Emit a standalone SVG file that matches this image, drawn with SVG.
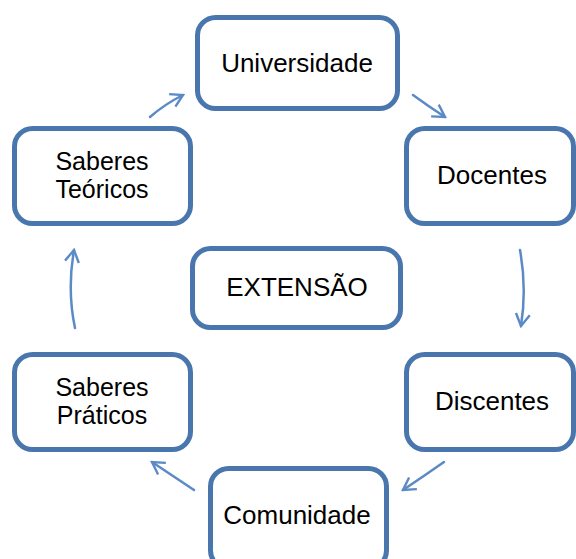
<svg xmlns="http://www.w3.org/2000/svg" width="576" height="559" viewBox="0 0 576 559">
<defs>
<style>
.box{fill:#ffffff;stroke:#4a76ae;stroke-width:5}
.lbl{font-family:"Liberation Sans",Arial,sans-serif;font-size:26px;fill:#000000;text-anchor:middle}
.lbl2{font-family:"Liberation Sans",Arial,sans-serif;font-size:25px;fill:#000000;text-anchor:middle}
.arr{fill:none;stroke:#5b8ac6;stroke-width:2.5;stroke-linecap:round}
</style>
<marker id="ah" viewBox="0 0 16 16" refX="14" refY="8" markerWidth="16" markerHeight="16" markerUnits="userSpaceOnUse" orient="auto">
<path d="M2,1 L14,8 L2,15" fill="none" stroke="#5b8ac6" stroke-width="2.4"/>
</marker>
</defs>
<rect width="576" height="559" fill="#ffffff"/>
<g id="connectors">
<path class="arr" d="M150,117 Q165,104 183,95" marker-end="url(#ah)"/>
<path class="arr" d="M413,95 Q428,106 445,117" marker-end="url(#ah)"/>
<path class="arr" d="M520,250 Q527,288 521,326" marker-end="url(#ah)"/>
<path class="arr" d="M444,462 Q424,476 403,490" marker-end="url(#ah)"/>
<path class="arr" d="M194,490 Q173,476 152,462" marker-end="url(#ah)"/>
<path class="arr" d="M75,328 Q67,290 74,250" marker-end="url(#ah)"/>
</g>
<g id="universidade"><rect class="box" x="197.5" y="17.5" width="200" height="91" rx="18"/><text class="lbl" x="297" y="72">Universidade</text></g>
<g id="docentes"><rect class="box" x="406.5" y="128.5" width="167" height="95" rx="18"/><text class="lbl" x="492" y="184">Docentes</text></g>
<g id="discentes"><rect class="box" x="406.5" y="354.5" width="167" height="95" rx="18"/><text class="lbl" x="492" y="410">Discentes</text></g>
<g id="comunidade"><rect class="box" x="210.5" y="468.5" width="176" height="100" rx="18"/><text class="lbl" x="297" y="524">Comunidade</text></g>
<g id="saberes-teoricos"><rect class="box" x="14.5" y="128.5" width="176" height="95" rx="18"/><text class="lbl2" x="102" y="170">Saberes</text><text class="lbl2" x="102" y="198">Teóricos</text></g>
<g id="saberes-praticos"><rect class="box" x="14.5" y="354.5" width="176" height="95" rx="18"/><text class="lbl2" x="102" y="396">Saberes</text><text class="lbl2" x="102" y="424">Práticos</text></g>
<g id="extensao"><rect class="box" x="192.5" y="248.5" width="208" height="79" rx="18"/><text class="lbl" x="297" y="296">EXTENSÃO</text></g>
</svg>
